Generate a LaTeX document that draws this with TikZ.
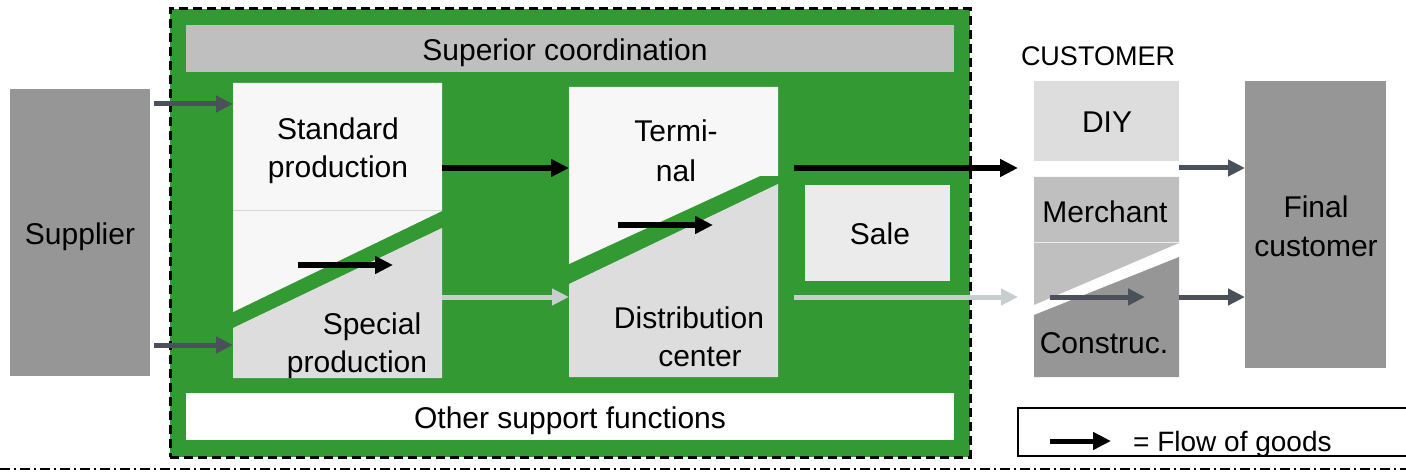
\documentclass[tikz,border=0pt]{standalone}
\usepackage{fontspec}
\setmainfont{Liberation Sans}
\usetikzlibrary{arrows.meta}
\definecolor{grn}{HTML}{339933}
\definecolor{gdark}{HTML}{969696}
\definecolor{gsup}{HTML}{BFBFBF}
\definecolor{gstd}{HTML}{F7F7F7}
\definecolor{gspc}{HTML}{DDDDDD}
\definecolor{gsale}{HTML}{EBEBEB}
\definecolor{slate}{HTML}{4B515B}
\definecolor{lgt}{HTML}{C8CDD0}
\newcommand{\twolines}[3][0pt]{\begin{tabular}[t]{@{}c@{}}#2\\[#1]#3\end{tabular}}
\tikzset{
  lbl/.style={font=\fontsize{30}{38}\selectfont, inner sep=0pt, anchor=base, text=black},
  boxat/.style={draw=none, inner sep=0pt, outer sep=0pt, anchor=north west},
  wh/.style 2 args={minimum width=#1pt, minimum height=#2pt},
  darr/.style={draw=slate, line width=5pt, -{Triangle[length=17pt,width=16pt]}},
  larr/.style={draw=lgt, line width=5pt, -{Triangle[length=17pt,width=16pt]}},
  barr/.style={draw=black, line width=6pt, -{Triangle[length=18pt,width=17pt]}},
}
\begin{document}
\begin{tikzpicture}[x=1pt,y=-1pt]
\useasboundingbox (0,0) rectangle (1406,473);
% rows used by the connectors
\coordinate (rowA) at (0,104);
\coordinate (rowB) at (0,345);
\coordinate (rowC) at (0,168);
\coordinate (rowD) at (0,297);

% organisation frame
\node[boxat, wh={800}{448}, fill=grn, draw=black, line width=3pt,
      dash pattern=on 9pt off 5pt] (org) at (170,9) {};
\node[boxat, wh={768}{47}, fill=gsup] (superior) at (186,25) {};
\node[boxat, wh={768}{47}, fill=white] (other) at (186,393) {};

% supplier and final customer
\node[boxat, wh={140}{287}, fill=gdark] (supplier) at (10,89) {};
\node[boxat, wh={141}{287}, fill=gdark] (final) at (1245,81) {};

% columns (anchors for the connectors)
\node[boxat, wh={209}{295}] (leftcol) at (233,83) {};
\node[boxat, wh={209}{290}] (midcol) at (569,87) {};
\node[boxat, wh={145}{296}] (custcol) at (1034,81) {};

% production column
\fill[gstd] (233,83) -- (442,83) -- (442,211) -- (233,312) -- cycle;
\draw[grn!25!gstd, line width=1pt] (233,211) -- (442,211);
\fill[gspc] (233,328) -- (442,228) -- (442,378) -- (233,378) -- cycle;

% terminal / distribution column
\fill[gstd] (569,87) -- (778,87) -- (778,176) -- (760,176) -- (569,264) -- cycle;
\fill[gspc] (569,284) -- (778,184) -- (778,377) -- (569,377) -- cycle;

% sale
\node[boxat, wh={145}{96}, fill=gsale] (sale) at (805,185) {};

% customer column
\node[boxat, wh={145}{80}, fill=gspc] (diy) at (1034,81) {};
\fill[gsup] (1034,177) -- (1179,177) -- (1179,243) -- (1034,305) -- cycle;
\draw[white!70!gsup, line width=1pt] (1034,243) -- (1179,243);
\fill[gdark] (1034,315) -- (1179,257) -- (1179,377) -- (1034,377) -- cycle;

% texts
\node[lbl] (tsupplier) at (80,245) {Supplier};
\node[lbl] (tsuperior) at (565,61) {Superior coordination};
\node[lbl] (tstd) at (338,140) {\twolines{Standard}{production}};
\node[lbl] (tspc) at (357,334) {\twolines{\hspace*{30pt}Special}{production}};
\node[lbl] (tterm) at (676,142) {\twolines[2pt]{Termi-}{nal}};
\node[lbl] (tdist) at (689,328) {\twolines{Distribution}{\hspace*{22pt}center}};
\node[lbl] (tsale) at (880,245) {Sale};
\node[lbl] (tother) at (570,428) {Other support functions};
\node[lbl, font=\fontsize{27}{32}\selectfont] (tcust) at (1098,66) {CUSTOMER};
\node[lbl] (tdiy) at (1107,133) {DIY};
\node[lbl] (tmer) at (1105,223) {Merchant};
\node[lbl] (tcon) at (1104,353) {Construc.};
\node[lbl] (tfinal) at (1316,218) {\twolines[1pt]{Final}{customer}};

% inner flow points
\coordinate (sp1) at (298,265);
\coordinate (sp2) at (393,265);
\coordinate (tm1) at (618,225);
\coordinate (tm2) at (713,225);
\coordinate (cu1) at (1050,297);
\coordinate (cu2) at (1145,297);

% connectors
\draw[darr] ([xshift=4pt]supplier.east |- rowA) -- (leftcol.west |- rowA);
\draw[darr] ([xshift=4pt]supplier.east |- rowB) -- (leftcol.west |- rowB);
\draw[barr] (leftcol.east |- rowC) -- (midcol.west |- rowC);
\draw[larr] (leftcol.east |- rowD) -- (midcol.west |- rowD);
\draw[barr] ([xshift=16pt]midcol.east |- rowC) -- ([xshift=-16pt]custcol.west |- rowC);
\draw[larr] ([xshift=16pt]midcol.east |- rowD) -- ([xshift=-16pt]custcol.west |- rowD);
\draw[darr] (custcol.east |- rowC) -- (final.west |- rowC);
\draw[darr] (custcol.east |- rowD) -- (final.west |- rowD);
\draw[barr] (sp1) -- (sp2);
\draw[barr] (tm1) -- (tm2);
\draw[darr] (cu1) -- (cu2);

% legend
\coordinate (lgA) at (1406,408);
\coordinate (lgB) at (1018,408);
\coordinate (lgC) at (1018,456);
\coordinate (lgD) at (1406,456);
\draw[line width=2pt] (lgA) -- (lgB) -- (lgC) -- (lgD);
\coordinate (la1) at (1050,441);
\coordinate (la2) at (1111,441);
\draw[barr, line width=5pt] (la1) -- (la2);
\node[lbl, anchor=base west, font=\fontsize{28}{34}\selectfont] (tleg) at (1133,451) {= Flow of goods};

% bottom separator
\coordinate (sepL) at (0,469);
\coordinate (sepR) at (1406,469);
\draw[line width=2.5pt, dash pattern=on 10pt off 4pt on 2pt off 4pt] (sepL) -- (sepR);
\end{tikzpicture}
\end{document}
